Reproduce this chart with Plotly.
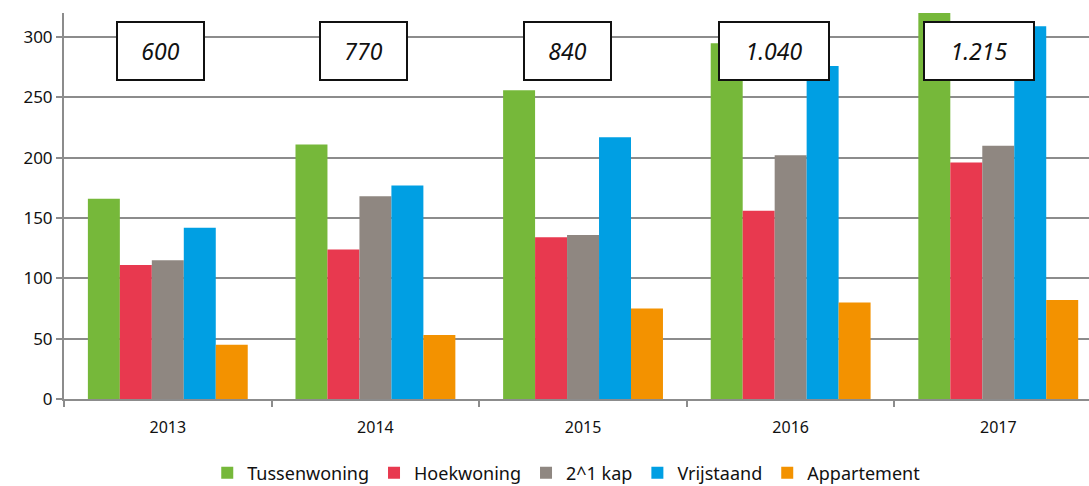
import plotly.graph_objects as go

years = ["2013", "2014", "2015", "2016", "2017"]
totals = ["600", "770", "840", "1.040", "1.215"]

series = {
    "Tussenwoning": [166, 211, 256, 295, 330],
    "Hoekwoning": [111, 124, 134, 156, 196],
    "2^1 kap": [115, 168, 136, 202, 210],
    "Vrijstaand": [142, 177, 217, 276, 309],
    "Appartement": [45, 53, 75, 80, 82],
}
colors = {
    "Tussenwoning": "#76b83a",
    "Hoekwoning": "#e8394f",
    "2^1 kap": "#8f8781",
    "Vrijstaand": "#009fe3",
    "Appartement": "#f39200",
}

fig = go.Figure()
for name, vals in series.items():
    fig.add_trace(go.Bar(x=years, y=vals, name=name, marker_color=colors[name],
                         marker_line_width=0))

plot_top, plot_bottom = 13, 399
box_center_px = 51
box_y = (plot_bottom - box_center_px) / (plot_bottom - plot_top)

# boxed totals above each year group
box_widths = [77, 77, 77, 100, 100]
box_shifts = [-7, -12, -16, -17, -19]
for i, (txt, w, dx) in enumerate(zip(totals, box_widths, box_shifts)):
    fig.add_annotation(x=i, y=box_y, xref="x", yref="paper", yanchor="middle",
                       xanchor="center", xshift=dx, showarrow=False,
                       text="<i>" + txt + "</i>",
                       font=dict(family="Noto Sans", size=23, color="#111"),
                       bgcolor="white", bordercolor="#111", borderwidth=2,
                       borderpad=4, width=w, height=48)

fig.update_layout(
    width=1089, height=486,
    margin=dict(l=64, r=0, t=13, b=87, autoexpand=False),
    plot_bgcolor="white", paper_bgcolor="white",
    barmode="group", bargap=0.23, bargroupgap=0,
    font=dict(family="Noto Sans", size=16, color="#111"),
    showlegend=True,
    legend=dict(orientation="h", x=0.49, xanchor="center",
                yref="container", y=13 / 486, yanchor="middle",
                font=dict(size=18), itemwidth=30, tracegroupgap=0),
    xaxis=dict(type="category", range=[-0.5, 4.437], tickson="boundaries",
               ticks="outside", ticklen=6, tickcolor="#8c8c8c", tickwidth=2,
               showline=True, linecolor="#8c8c8c", linewidth=2,
               showgrid=False, tickfont=dict(size=16), ticklabelstandoff=13),
    yaxis=dict(range=[0, 320], dtick=50, ticks="outside", ticklen=6,
               tickcolor="#8c8c8c", tickwidth=2,
               showline=True, linecolor="#8c8c8c", linewidth=2,
               gridcolor="#8c8c8c", gridwidth=2, zeroline=False,
               tickfont=dict(size=17)),
)

fig.write_html("out.html")
